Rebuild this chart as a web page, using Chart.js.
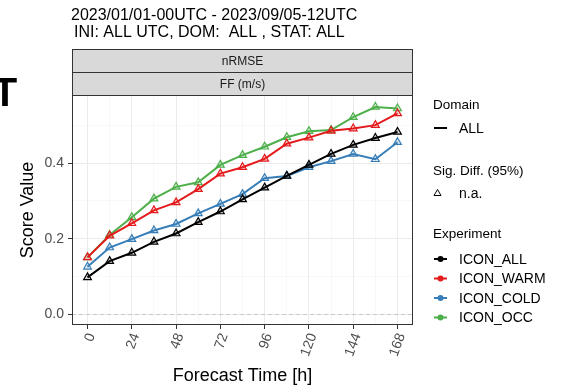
<!DOCTYPE html>
<html>
<head>
<meta charset="utf-8">
<script src="https://cdn.jsdelivr.net/npm/chart.js@4"></script>
<style>
  html, body { margin:0; padding:0; background:#fff; }
  #wrap { position:relative; width:567px; height:386px; }
</style>
</head>
<body>
<div id="wrap"><canvas id="my_canvas" width="567" height="386"></canvas></div>
<script>
// forecast lead times (h)
const hours = [0,12,24,36,48,60,72,84,96,108,120,132,144,156,168];
const xTickLabels = [0,24,48,72,96,120,144,168];
const yTickValues = [0,0.1,0.2,0.3,0.4,0.5];

const icon_all  = [0.098,0.141,0.163,0.192,0.214,0.244,0.272,0.304,0.335,0.366,0.395,0.424,0.448,0.466,0.482];
const icon_warm = [0.151,0.208,0.241,0.275,0.296,0.331,0.372,0.389,0.411,0.451,0.467,0.485,0.491,0.500,0.531];
const icon_cold = [0.126,0.177,0.199,0.222,0.239,0.267,0.292,0.318,0.360,0.366,0.389,0.405,0.424,0.410,0.455];
const icon_occ  = [0.151,0.210,0.257,0.306,0.337,0.349,0.395,0.421,0.443,0.468,0.484,0.487,0.521,0.548,0.544];

const experiments = ['ICON_ALL','ICON_WARM','ICON_COLD','ICON_OCC'];
const colors = ['#000000','#E41A1C','#377EB8','#4DAF4A'];
const fills  = ['rgba(0,0,0,0.15)','rgba(228,26,28,0.15)','rgba(55,126,184,0.15)','rgba(77,175,74,0.15)'];
const series = [icon_all, icon_warm, icon_cold, icon_occ];

const FONT = '"Liberation Sans", Arial, sans-serif';

function toPoints(arr){
    return hours.map((h,i) => ({x:h, y:arr[i]}));
}

const datasets = [{
    label:'zero',
    data:[{x:-8.4,y:0},{x:176.4,y:0}],
    borderColor:'#C8C8C8',
    borderDash:[4,3],
    borderWidth:1,
    pointRadius:0
}];
series.forEach((s,i) => {
    datasets.push({
        label:experiments[i],
        data:toPoints(s),
        borderColor:colors[i],
        backgroundColor:fills[i],
        borderWidth:2,
        pointStyle:'triangle',
        pointRadius:4.5,
        pointBorderWidth:1.2,
        pointBackgroundColor:fills[i],
        tension:0
    });
});

// strips, titles, legend and panel border
const decor = {
    id:'decor',
    afterDraw(chart){
        const c = chart.ctx;
        const a = chart.chartArea;
        c.save();

        // panel border
        c.strokeStyle = '#333333';
        c.lineWidth = 1;
        c.strokeRect(a.left+0.5, a.top+0.5, a.right-a.left-1, a.bottom-a.top-1);

        // strips
        const strips = [['nRMSE',49,72],['FF (m/s)',72,95]];
        strips.forEach(s => {
            c.fillStyle = '#D9D9D9';
            c.fillRect(a.left, s[1], a.right-a.left, s[2]-s[1]);
            c.strokeStyle = '#333333';
            c.strokeRect(a.left+0.5, s[1]+0.5, a.right-a.left-1, s[2]-s[1]);
            c.fillStyle = '#1A1A1A';
            c.font = '12px ' + FONT;
            c.textAlign = 'center';
            c.textBaseline = 'middle';
            c.fillText(s[0], (a.left+a.right)/2, (s[1]+s[2])/2+1);
        });

        // title
        c.fillStyle = '#000';
        c.font = '16px ' + FONT;
        c.textAlign = 'left';
        c.textBaseline = 'middle';
        c.fillText('2023/01/01-00UTC - 2023/09/05-12UTC', 71, 16);
        c.fillText('INI: ALL UTC, DOM:  ALL , STAT: ALL', 74, 33);

        // cut-off letter at left
        c.font = 'bold 40px ' + FONT;
        c.textAlign = 'center';
        c.textBaseline = 'alphabetic';
        c.fillText('T', 5, 106);

        // axis titles
        c.font = '18px ' + FONT;
        c.textAlign = 'center';
        c.textBaseline = 'middle';
        c.fillText('Forecast Time [h]', (a.left+a.right)/2, 376);
        c.save();
        c.translate(28, (a.top+a.bottom)/2);
        c.rotate(-Math.PI/2);
        c.fillText('Score Value', 0, 0);
        c.restore();

        // legend
        const lx = 433;
        c.textAlign = 'left';
        c.font = '13.5px ' + FONT;
        c.fillText('Domain', lx, 105);
        c.strokeStyle = '#000';
        c.lineWidth = 2;
        c.beginPath(); c.moveTo(lx+1,128); c.lineTo(lx+14,128); c.stroke();
        c.font = '14px ' + FONT;
        c.fillText('ALL', lx+26, 129);

        c.font = '13.5px ' + FONT;
        c.fillText('Sig. Diff. (95%)', lx, 171);
        c.lineWidth = 1;
        c.beginPath();
        c.moveTo(lx+4.5,189.5); c.lineTo(lx+8,195.5); c.lineTo(lx+1,195.5); c.closePath();
        c.stroke();
        c.font = '14px ' + FONT;
        c.fillText('n.a.', lx+26, 194);

        c.font = '13.5px ' + FONT;
        c.fillText('Experiment', lx, 234);
        experiments.forEach((e,i) => {
            const y = 259 + i*19.5;
            c.strokeStyle = colors[i];
            c.fillStyle = colors[i];
            c.lineWidth = 2;
            c.beginPath(); c.moveTo(lx+1,y); c.lineTo(lx+14,y); c.stroke();
            c.beginPath(); c.arc(lx+7.5,y,3,0,Math.PI*2); c.fill();
            c.fillStyle = '#000';
            c.font = '14px ' + FONT;
            c.fillText(e, lx+26, y+1);
        });
        c.restore();
    }
};

const canvas_element = document.getElementById('my_canvas').getContext('2d');

const the_chart = new Chart(canvas_element,{
    type:'line',
    data:{ datasets:datasets },
    options:{
        responsive:false,
        animation:false,
        layout:{ padding:{ top:95, right:154, left:0, bottom:0 } },
        plugins:{ legend:{display:false}, tooltip:{enabled:false} },
        scales:{
            x:{
                type:'linear',
                min:-8.4,
                max:176.4,
                afterFit(axis){ axis.height = 61; },
                afterBuildTicks(axis){ axis.ticks = hours.map(h => ({value:h})); },
                border:{ display:false },
                grid:{
                    color:ctx => xTickLabels.includes(ctx.tick.value) ? '#EBEBEB' : '#F3F3F3',
                    lineWidth:ctx => xTickLabels.includes(ctx.tick.value) ? 1 : 0.6,
                    tickColor:ctx => xTickLabels.includes(ctx.tick.value) ? '#333333' : 'rgba(0,0,0,0)',
                    tickLength:4
                },
                ticks:{
                    autoSkip:false,
                    minRotation:70,
                    maxRotation:70,
                    padding:2,
                    labelOffset:4,
                    color:'#4D4D4D',
                    font:{ family:FONT, size:14 },
                    callback:v => xTickLabels.includes(v) ? String(v) : ''
                }
            },
            y:{
                type:'linear',
                min:-0.0276,
                max:0.5796,
                afterFit(axis){ axis.width = 72; },
                afterBuildTicks(axis){ axis.ticks = yTickValues.map(v => ({value:v})); },
                border:{ display:false },
                grid:{
                    color:ctx => (Math.round(ctx.tick.value*10) % 2 === 0) ? '#EBEBEB' : '#F3F3F3',
                    lineWidth:ctx => (Math.round(ctx.tick.value*10) % 2 === 0) ? 1 : 0.6,
                    tickColor:ctx => (Math.round(ctx.tick.value*10) % 2 === 0) ? '#333333' : 'rgba(0,0,0,0)',
                    tickLength:4
                },
                ticks:{
                    padding:4,
                    color:'#4D4D4D',
                    font:{ family:FONT, size:14 },
                    callback:v => (Math.round(v*10) % 2 === 0) ? v.toFixed(1) : ''
                }
            }
        }
    },
    plugins:[decor]
});
</script>
</body>
</html>
